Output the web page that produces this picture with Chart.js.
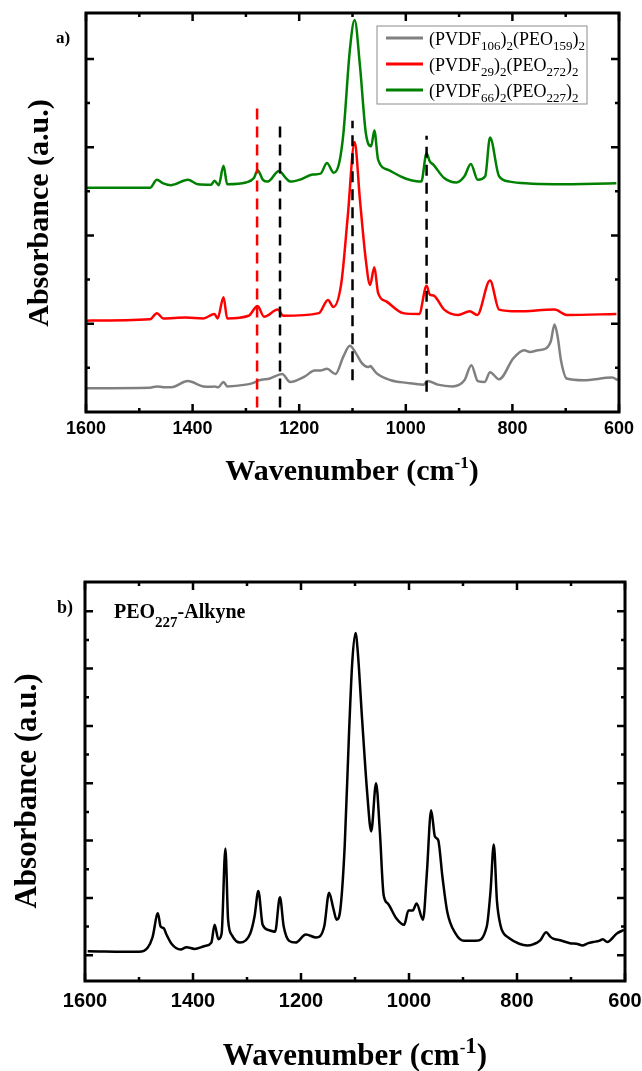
<!DOCTYPE html>
<html>
<head>
<meta charset="utf-8">
<script src="https://cdn.jsdelivr.net/npm/chart.js@4.4.0/dist/chart.umd.min.js"></script>
<style>
  html, body { margin: 0; padding: 0; background: #fff; width: 642px; height: 1071px; overflow: hidden; }
  canvas { position: absolute; left: 0; }
  #chartA { top: 0; }
  #chartB { top: 520px; }
</style>
</head>
<body>
<canvas id="chartA" width="642" height="500"></canvas>
<canvas id="chartB" width="642" height="551"></canvas>
<script>
// ---- panel a) : three copolymers, offset spectra ----
const grayWn  = [1600, 1480, 1467, 1455, 1440, 1409, 1380, 1365, 1359, 1352, 1342, 1335, 1300, 1286, 1275, 1255, 1232, 1217, 1190, 1171, 1160, 1148, 1132, 1117, 1105, 1094, 1082, 1071, 1066, 1063, 1055, 1028, 998, 967, 959, 940, 913, 890, 877, 865, 852, 842, 825, 798, 778, 767, 752, 737, 728, 721, 715, 709, 698, 667, 613, 602];
const grayAbs = [0.27, 0.275, 0.29, 0.28, 0.28, 0.35, 0.29, 0.285, 0.29, 0.28, 0.34, 0.29, 0.31, 0.33, 0.36, 0.38, 0.43, 0.34, 0.40, 0.47, 0.47, 0.49, 0.43, 0.63, 0.75, 0.67, 0.55, 0.51, 0.52, 0.50, 0.44, 0.36, 0.33, 0.31, 0.35, 0.31, 0.29, 0.36, 0.53, 0.35, 0.34, 0.45, 0.37, 0.61, 0.70, 0.68, 0.70, 0.72, 0.80, 0.99, 0.85, 0.59, 0.38, 0.36, 0.39, 0.36];

const redWn  = [1600, 1480, 1467, 1455, 1413, 1380, 1359, 1353, 1342, 1335, 1295, 1278, 1266, 1240, 1230, 1163, 1146, 1136, 1121, 1109, 1096, 1086, 1075, 1067, 1059, 1052, 1036, 1005, 975, 961, 955, 948, 928, 902, 880, 866, 842, 825, 790, 721, 698, 605];
const redAbs = [1.035, 1.05, 1.12, 1.06, 1.07, 1.06, 1.11, 1.06, 1.30, 1.06, 1.09, 1.20, 1.08, 1.16, 1.09, 1.12, 1.27, 1.19, 1.46, 2.21, 3.06, 2.40, 1.72, 1.44, 1.64, 1.35, 1.25, 1.12, 1.11, 1.43, 1.33, 1.32, 1.16, 1.10, 1.14, 1.10, 1.49, 1.16, 1.14, 1.16, 1.10, 1.11];

const greenWn  = [1600, 1480, 1467, 1455, 1440, 1409, 1390, 1365, 1359, 1351, 1342, 1335, 1300, 1285, 1278, 1268, 1259, 1238, 1225, 1217, 1195, 1175, 1160, 1148, 1135, 1125, 1117, 1105, 1096, 1086, 1075, 1065, 1059, 1052, 1032, 1010, 998, 971, 961, 955, 948, 928, 905, 890, 878, 865, 851, 842, 825, 805, 775, 721, 605];
const greenAbs = [2.54, 2.54, 2.63, 2.59, 2.57, 2.63, 2.58, 2.575, 2.62, 2.57, 2.79, 2.58, 2.60, 2.65, 2.74, 2.63, 2.61, 2.73, 2.65, 2.61, 2.64, 2.69, 2.70, 2.82, 2.71, 2.82, 3.16, 4.10, 4.44, 3.92, 3.16, 3.01, 3.19, 2.86, 2.74, 2.67, 2.64, 2.61, 2.93, 2.84, 2.80, 2.65, 2.60, 2.67, 2.81, 2.63, 2.67, 3.11, 2.67, 2.61, 2.59, 2.58, 2.59];

// dashed marker lines
const dashWn     = [1279, 1236, 1100, 961];
const dashTop    = [3.45, 3.31, 3.30, 3.13];
const dashBottom = [0.05, 0.05, 0.36, 0.23];
const dashColors = ['#ff0000', '#000000', '#000000', '#000000'];

const legendLabels = [
  ['(PVDF', '106', ')', '2', '(PEO', '159', ')', '2'],
  ['(PVDF', '29', ')', '2', '(PEO', '272', ')', '2'],
  ['(PVDF', '66', ')', '2', '(PEO', '227', ')', '2']
];
const seriesColors = ['#808080', '#ff0000', '#008000'];

// ---- panel b) : PEO227-Alkyne ----
const blackWn  = [1595, 1500, 1484, 1475, 1465, 1460, 1454, 1450, 1439, 1423, 1412, 1397, 1378, 1366, 1360, 1353, 1347, 1340, 1335, 1328, 1313, 1294, 1286, 1279, 1271, 1260, 1248, 1239, 1232, 1222, 1210, 1191, 1172, 1157, 1148, 1140, 1134, 1127, 1119, 1111, 1105, 1099, 1095, 1087, 1077, 1070, 1061, 1054, 1047, 1039, 1024, 1009, 1001, 993, 986, 974, 967, 959, 952, 946, 938, 929, 914, 898, 876, 856, 849, 843, 837, 830, 826, 815, 796, 781, 770, 757, 746, 738, 733, 720, 702, 690, 678, 668, 659, 648, 641, 633, 615, 602];
const blackAbs = [0.07, 0.06, 0.13, 0.31, 0.73, 0.50, 0.47, 0.38, 0.19, 0.10, 0.14, 0.11, 0.16, 0.22, 0.53, 0.28, 0.38, 1.86, 0.62, 0.35, 0.22, 0.38, 0.68, 1.12, 0.53, 0.44, 0.41, 1.01, 0.50, 0.25, 0.22, 0.36, 0.31, 0.50, 1.09, 0.81, 0.62, 0.81, 1.92, 3.89, 5.12, 5.62, 5.31, 4.14, 2.78, 2.16, 3.00, 2.16, 1.05, 0.90, 0.65, 0.53, 0.78, 0.78, 0.90, 0.62, 1.42, 2.53, 2.07, 2.01, 1.36, 0.75, 0.38, 0.25, 0.25, 0.50, 1.12, 1.93, 0.93, 0.50, 0.40, 0.30, 0.20, 0.17, 0.19, 0.26, 0.40, 0.32, 0.29, 0.26, 0.21, 0.20, 0.17, 0.21, 0.23, 0.25, 0.28, 0.23, 0.38, 0.44];

const xTickValues = [1600, 1400, 1200, 1000, 800, 600];

function toPoints(xs, ys) {
    return xs.map((v, i) => ({ x: v, y: ys[i] }));
}

// draw text made of alternating normal / subscript pieces
function richWidth(ctx, parts) {
    let w = 0;
    parts.forEach(p => { ctx.font = p.font; w += ctx.measureText(p.t).width; });
    return w;
}
function drawRich(ctx, parts, x, y, align) {
    let w = richWidth(ctx, parts);
    let cx = align === 'center' ? x - w / 2 : x;
    ctx.textAlign = 'left';
    ctx.textBaseline = 'alphabetic';
    parts.forEach(p => {
        ctx.font = p.font;
        ctx.fillText(p.t, cx, y + (p.dy || 0));
        cx += ctx.measureText(p.t).width;
    });
}

const framePlugin = {
    id: 'frameTicks',
    afterDraw(chart, args, opts) {
        const ctx = chart.ctx;
        const a = chart.chartArea;
        const x = chart.scales.x, y = chart.scales.y;
        ctx.save();
        ctx.strokeStyle = '#000';
        ctx.lineWidth = 2.5;
        ctx.lineCap = 'butt';
        // x ticks, inward, bottom and top
        for (let v = 600; v <= 1600; v += 100) {
            const px = x.getPixelForValue(v);
            const len = v % 200 === 0 ? 8 : 4;
            ctx.beginPath();
            ctx.moveTo(px, a.bottom); ctx.lineTo(px, a.bottom - len);
            ctx.moveTo(px, a.top); ctx.lineTo(px, a.top + len);
            ctx.stroke();
        }
        // y ticks, inward, left and right
        const start = Math.ceil(y.min * 2);
        for (let k = start; k / 2 <= y.max; k++) {
            const py = y.getPixelForValue(k / 2);
            if (py >= a.bottom - 2 || py <= a.top + 2) continue;
            const len = k % 2 === 0 ? 8 : 4;
            ctx.beginPath();
            ctx.moveTo(a.left, py); ctx.lineTo(a.left + len, py);
            ctx.moveTo(a.right, py); ctx.lineTo(a.right - len, py);
            ctx.stroke();
        }
        ctx.lineWidth = 3;
        ctx.strokeRect(a.left, a.top, a.right - a.left, a.bottom - a.top);

        ctx.fillStyle = '#000';
        // axis titles
        const serif = 'Liberation Serif';
        drawRich(ctx, [
            { t: 'Wavenumber (cm', font: `bold ${opts.titleSize}px "${serif}"` },
            { t: '-', font: `bold ${opts.supSize}px "${serif}"`, dy: -12 },
            { t: '1', font: `bold ${opts.supSize + opts.oneExtra}px "${serif}"`, dy: -12 },
            { t: ')', font: `bold ${opts.titleSize}px "${serif}"` }
        ], opts.xTitleX, opts.xTitleY, 'center');

        ctx.save();
        ctx.translate(opts.yTitleX, opts.yTitleY);
        ctx.rotate(-Math.PI / 2);
        ctx.font = `bold ${opts.titleSize}px "${serif}"`;
        ctx.textAlign = 'center';
        ctx.textBaseline = 'middle';
        ctx.fillText('Absorbance (a.u.)', 0, 0);
        ctx.restore();

        // panel letter
        ctx.font = `bold ${opts.letterSize}px "${serif}"`;
        ctx.textAlign = 'left';
        ctx.textBaseline = 'alphabetic';
        ctx.fillText(opts.letter, opts.letterX, opts.letterY);

        if (opts.legend) {
            const lg = opts.legend;
            ctx.lineWidth = 1;
            ctx.strokeStyle = '#8c8c8c';
            ctx.strokeRect(lg.x, lg.y, lg.w, lg.h);
            legendLabels.forEach((lab, i) => {
                const ly = lg.y + lg.rowTop + i * lg.rowGap;
                ctx.strokeStyle = seriesColors[i];
                ctx.lineWidth = 3;
                ctx.beginPath();
                ctx.moveTo(lg.x + 9, ly);
                ctx.lineTo(lg.x + 46, ly);
                ctx.stroke();
                ctx.fillStyle = '#000';
                const parts = lab.map((t, j) => j % 2 === 0
                    ? { t: t, font: `18px "${serif}"` }
                    : { t: t, font: `13px "${serif}"`, dy: 5 });
                drawRich(ctx, parts, lg.x + 52, ly + 7, 'left');
            });
        }

        if (opts.note) {
            drawRich(ctx, [
                { t: 'PEO', font: `bold 20px "${serif}"` },
                { t: '227', font: `bold 15px "${serif}"`, dy: 9 },
                { t: '-Alkyne', font: `bold 20px "${serif}"` }
            ], opts.note.x, opts.note.y, 'left');
        }
        ctx.restore();
    }
};

function xScale(fontSize, pad, height) {
    return {
        type: 'linear',
        min: 600,
        max: 1600,
        reverse: true,
        grid: { display: false, drawTicks: false },
        border: { display: false },
        ticks: {
            stepSize: 200,
            autoSkip: false,
            padding: pad,
            color: '#000',
            font: { family: 'Liberation Sans', weight: 'bold', size: fontSize },
            callback: v => xTickValues.includes(v) ? String(v) : ''
        },
        afterFit(scale) {
            scale.height = height;
            scale.paddingLeft = 0;
            scale.paddingRight = 0;
        }
    };
}

function yScale(min, max, width) {
    return {
        type: 'linear',
        min: min,
        max: max,
        grid: { display: false, drawTicks: false },
        border: { display: false },
        ticks: { display: false },
        afterFit(scale) { scale.width = width; }
    };
}

const spectrumStyle = {
    pointRadius: 0,
    borderWidth: 2.5,
    fill: false,
    cubicInterpolationMode: 'monotone'
};

// dashed lines drawn above the spectra (lower order = on top)
const dashSets = dashWn.map((wn, i) => ({
    data: toPoints([wn, wn], [dashBottom[i], dashTop[i]]),
    borderColor: dashColors[i],
    borderWidth: 2.5,
    borderDash: [11, 7],
    pointRadius: 0,
    fill: false,
    order: 0
}));

new Chart(document.getElementById('chartA'), {
    type: 'line',
    data: {
        datasets: [
            ...dashSets,
            Object.assign({ data: toPoints(greenWn, greenAbs), borderColor: seriesColors[2], order: 1 }, spectrumStyle),
            Object.assign({ data: toPoints(redWn, redAbs), borderColor: seriesColors[1], order: 2 }, spectrumStyle),
            Object.assign({ data: toPoints(grayWn, grayAbs), borderColor: seriesColors[0], order: 3 }, spectrumStyle)
        ]
    },
    options: {
        responsive: false,
        animation: false,
        devicePixelRatio: 1,
        layout: { padding: { left: 0, right: 23, top: 13, bottom: 0 } },
        plugins: {
            legend: { display: false },
            tooltip: { enabled: false },
            frameTicks: {
                titleSize: 30, supSize: 17, oneExtra: 0,
                xTitleX: 352, xTitleY: 480,
                yTitleX: 40, yTitleY: 213,
                letter: 'a)', letterSize: 17, letterX: 56, letterY: 43,
                legend: { x: 377, y: 26, w: 210, h: 78, rowTop: 12, rowGap: 26 }
            }
        },
        scales: {
            x: xScale(18, 6, 88),
            y: yScale(0, 4.52, 86)
        }
    },
    plugins: [framePlugin]
});

new Chart(document.getElementById('chartB'), {
    type: 'line',
    data: {
        datasets: [
            Object.assign({ data: toPoints(blackWn, blackAbs), borderColor: '#000000' }, spectrumStyle)
        ]
    },
    options: {
        responsive: false,
        animation: false,
        devicePixelRatio: 1,
        layout: { padding: { left: 0, right: 17, top: 62, bottom: 0 } },
        plugins: {
            legend: { display: false },
            tooltip: { enabled: false },
            frameTicks: {
                titleSize: 31, supSize: 17, oneExtra: 6,
                xTitleX: 355, xTitleY: 545,
                yTitleX: 28, yTitleY: 271,
                letter: 'b)', letterSize: 18, letterX: 57, letterY: 93,
                note: { x: 114, y: 98 }
            }
        },
        scales: {
            x: xScale(20, 8, 90),
            y: yScale(-0.45, 6.51, 85)
        }
    },
    plugins: [framePlugin]
});
</script>
</body>
</html>
